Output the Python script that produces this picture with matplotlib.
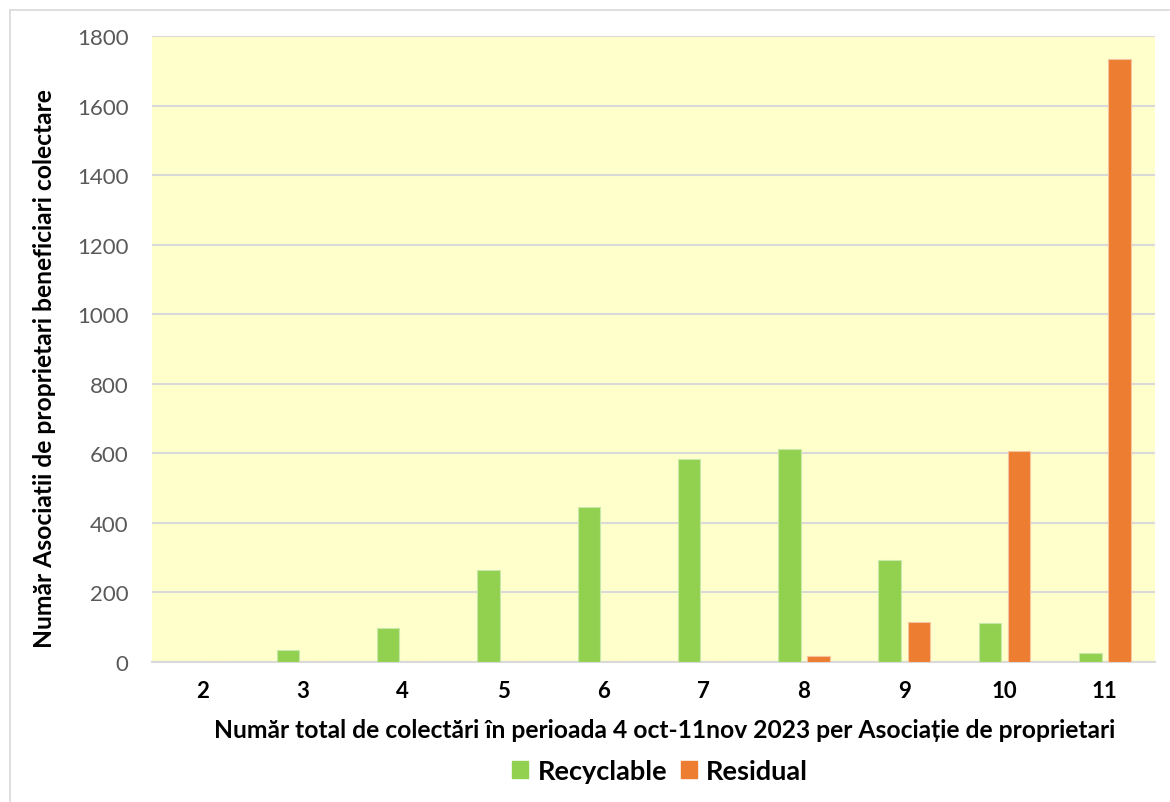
import matplotlib
matplotlib.use("Agg")
import matplotlib.pyplot as plt
import numpy as np
from matplotlib.patches import Patch
from matplotlib.lines import Line2D

categories = ["2", "3", "4", "5", "6", "7", "8", "9", "10", "11"]
recyclable = [0, 35, 97, 264, 446, 585, 613, 293, 112, 27]
residual = [0, 0, 0, 0, 0, 0, 17, 116, 607, 1735]
series_names = ["Recyclable", "Residual"]
yticks = [0, 200, 400, 600, 800, 1000, 1200, 1400, 1600, 1800]

plt.rcParams['font.family'] = ['Lato', 'DejaVu Sans']

W, H = 1170, 803
fig = plt.figure(figsize=(W / 100, H / 100), dpi=100)
fig.patch.set_facecolor('white')

# outer chart border (left and top visible)
fig.add_artist(Line2D([10 / W, 10 / W], [0, 1 - 11 / H], transform=fig.transFigure,
                      color='#D9D9D9', lw=1.2))
fig.add_artist(Line2D([10 / W, 1], [1 - 11 / H, 1 - 11 / H], transform=fig.transFigure,
                      color='#D9D9D9', lw=1.2))

left, right, top, bottom = 152, 1155, 37, 663
ax = fig.add_axes([left / W, 1 - bottom / H, (right - left) / W, (bottom - top) / H])
ax.set_facecolor('#FFFFCC')

x = np.arange(len(categories))
bw = 0.225
off = 0.145
green = '#92D050'
orange = '#ED7D31'
ax.bar(x - off, recyclable, bw, color=green, edgecolor='#C8E8A8', linewidth=0.8, zorder=3)
ax.bar(x + off, residual, bw, color=orange, edgecolor='#F6C4A0', linewidth=0.8, zorder=3)

ax.set_xlim(-0.5, len(categories) - 0.5)
ax.set_ylim(0, 1800)
ax.set_yticks(yticks)
ax.set_yticklabels([str(v) for v in yticks], color='#595959', fontsize=16)
ax.set_xticks(x)
ax.set_xticklabels(categories, fontsize=16, fontweight='bold', color='black')
ax.tick_params(axis='both', length=0)
ax.tick_params(axis='y', pad=17)
ax.tick_params(axis='x', pad=13)
ax.grid(axis='y', color='#D9D9D9', linewidth=1.5, zorder=0)
ax.set_axisbelow(True)
for s in ['top', 'right', 'left']:
    ax.spines[s].set_visible(False)
ax.spines['bottom'].set_color('#D9D9D9')
ax.spines['bottom'].set_linewidth(1.5)

fig.text(665 / W, 1 - 731 / H,
         "Număr total de colectări în perioada 4 oct-11nov 2023 per Asociație de proprietari",
         ha='center', va='center', fontsize=17.7, fontweight='bold')
fig.text(45 / W, 1 - 369 / H, "Număr Asociatii de proprietari beneficiari colectare",
         ha='center', va='center', rotation=90, fontsize=17.7, fontweight='bold')

handles = [Patch(facecolor=green, edgecolor=green), Patch(facecolor=orange, edgecolor=orange)]
fig.legend(handles, series_names, loc='center', bbox_to_anchor=(660 / W, 1 - 772 / H),
           ncol=2, frameon=False, prop={'size': 19.5, 'weight': 'bold'},
           handlelength=0.6, handleheight=0.6, handletextpad=0.35, columnspacing=0.5)

fig.savefig("out.png", dpi=100, facecolor='white')
